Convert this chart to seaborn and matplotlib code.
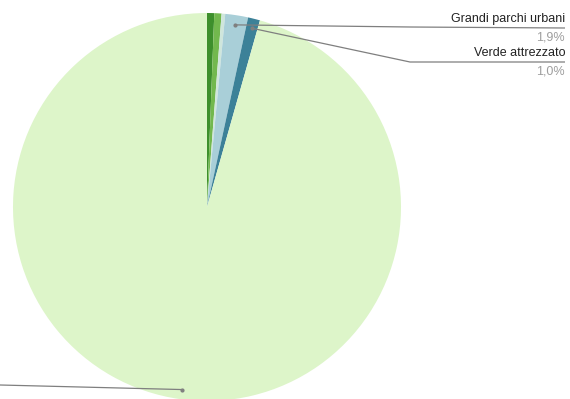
import numpy as np
import seaborn as sns
import matplotlib
matplotlib.use("Agg")
import matplotlib.pyplot as plt

# Slice data (clockwise from 12 o'clock)
categories = ["Verde storico", "Aree di arredo urbano", "Aiuole",
              "Grandi parchi urbani", "Verde attrezzato", "Altro"]
shares = [0.6, 0.6, 0.3, 1.9, 1.0, 95.6]
colors = ["#3d8f2c", "#72b84e", "#cfe6dc", "#a9cfd8", "#3c8198", "#ddf5c9"]
shown = ["Grandi parchi urbani", "Verde attrezzato"]
shown_pct = ["1,9%", "1,0%"]

sns.set_theme(style="white")
plt.rcParams['font.family'] = ['Liberation Sans', 'DejaVu Sans']

W, H = 570, 399
fig = plt.figure(figsize=(W / 100, H / 100), dpi=100)
ax = fig.add_axes([0, 0, 1, 1])

cx, cy, R = 207, H - 207, 194
wedges, _ = ax.pie(shares, colors=colors, startangle=90, counterclock=False,
                   center=(cx, cy), radius=R, frame=True,
                   wedgeprops=dict(linewidth=0))
ax.set_xlim(0, W)
ax.set_ylim(0, H)
ax.set_axis_off()


def anchor(i, frac=0.95):
    w = wedges[i]
    mid = np.deg2rad((w.theta1 + w.theta2) / 2)
    return cx + frac * R * np.cos(mid), cy + frac * R * np.sin(mid)


line_col = "#7f7f7f"
# leader lines for the two labelled slices
label_rows = [(H - 27, H - 28), (H - 62, H - 62)]
for k, name in enumerate(shown):
    i = categories.index(name)
    ax_, ay_ = anchor(i)
    ex, ey = label_rows[k]
    ax.plot([ax_, 410, 565], [ay_, ex, ey], color=line_col, lw=0.9,
            solid_capstyle='butt')
    ax.plot(ax_, ay_, 'o', color=line_col, ms=2)
    ax.text(565, ey + 3, name, ha='right', va='bottom', fontsize=9,
            color="#222222")
    ax.text(565, ey - 3, shown_pct[k], ha='right', va='top', fontsize=9,
            color="#9e9e9e")

# leader for the big slice (its label lies off the chart)
bx, by = anchor(len(categories) - 1)
ax.plot([bx, 0], [by, H - 385], color=line_col, lw=0.9)
ax.plot(bx, by, 'o', color=line_col, ms=2)

fig.savefig("out.png", dpi=100)
